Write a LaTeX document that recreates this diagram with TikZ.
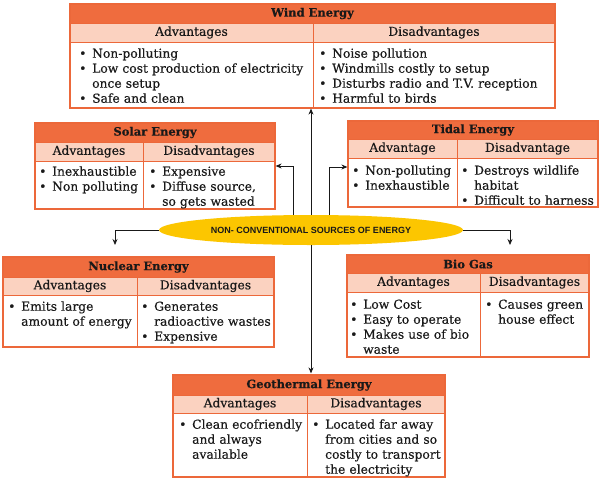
\documentclass[tikz,border=0pt]{standalone}
\usepackage{fontspec}
\setmainfont{DejaVu Serif}[FakeBold=0.4]
\newfontfamily\elfont{Liberation Sans}
\usetikzlibrary{arrows.meta,shapes.geometric,fit,calc}
\definecolor{ttl}{RGB}{239,108,62}
\definecolor{hdr}{RGB}{251,210,192}
\definecolor{brd}{RGB}{236,104,58}
\definecolor{ell}{RGB}{252,198,0}
\definecolor{ink}{RGB}{25,25,25}
\newlength\bw \setlength\bw{13pt}
\newcommand\bl[1]{\par\noindent\strut\makebox[\bw][l]{•}#1}
\newcommand\cl[1]{\par\noindent\strut\hspace*{\bw}#1}
\tikzset{
 frame/.style={draw=brd, line width=1.2pt, inner sep=0pt},
 grid/.style={draw=brd, line width=1pt},
 ttltext/.style={font=\fontsize{11.5}{14}\selectfont\bfseries, text=ink, inner sep=0pt},
 hdrtext/.style={font=\fontsize{12.3}{15}\selectfont, text=ink, inner sep=0pt},
 body/.style={font=\fontsize{12.3}{15}\selectfont, text=ink, inner sep=0pt, text width=230pt, align=left, anchor=north west},
 ellnode/.style={ellipse, fill=ell, minimum width=304pt, minimum height=30pt, inner sep=0pt, font=\elfont\bfseries\fontsize{9}{10}\selectfont, text=ink},
 arr/.style={draw=ink, line width=0.8pt, -{Stealth[length=6pt,width=5pt]}},
}
\newcommand\ebox[9]{%
 \fill[ttl] (#2,#5) rectangle (#4,#6);
 \fill[hdr] (#2,#6) rectangle (#4,#7);
 \draw[grid] (#2,#6) -- (#4,#6) (#2,#7) -- (#4,#7) (#3,#6) -- (#3,#8);
 \node[frame, fit={(#2,#5) (#4,#8)}] (#1) {};
 \node[ttltext] (#1-t) at ($(#2,#5)!0.5!(#4,#6)$) {#9};}
\newcommand\hdrs[8]{%
 \node[hdrtext] (#1-a) at ($(#2,#5)!0.5!(#3,#6)$) {#7};
 \node[hdrtext] (#1-d) at ($(#3,#5)!0.5!(#4,#6)$) {#8};}
\begin{document}
\begin{tikzpicture}[x=1pt,y=-1pt]
\fill[white] (0,0) rectangle (604,482);
\useasboundingbox (0,0) rectangle (604,482);

% Wind
\ebox{wind}{70}{313}{555}{4}{23}{42}{108}{Wind Energy}
\hdrs{wind}{70}{313}{555}{23}{42}{Advantages}{Disadvantages}
\node[body] (wind-l) at (79,42.5) {\bl{Non-polluting}\bl{Low cost production of electricity}\cl{once setup}\bl{Safe and clean}};
\node[body] (wind-r) at (319,42.5) {\bl{Noise pollution}\bl{Windmills costly to setup}\bl{Disturbs radio and T.V. reception}\bl{Harmful to birds}};

% Solar
\ebox{solar}{35}{143}{275}{123}{142}{161}{209}{Solar Energy}
\hdrs{solar}{35}{143}{275}{142}{161}{Advantages}{Disadvantages}
\node[body] (solar-l) at (39,160.5) {\bl{Inexhaustible}\bl{Non polluting}};
\node[body] (solar-r) at (149,160.5) {\bl{Expensive}\bl{Diffuse source,}\cl{so gets wasted}};

% Tidal
\ebox{tidal}{348}{457}{598}{121}{139}{158}{207}{Tidal Energy}
\hdrs{tidal}{348}{457}{598}{139}{158}{Advantage}{Disadvantage}
\node[body] (tidal-l) at (352,159.5) {\bl{Non-polluting}\bl{Inexhaustible}};
\node[body] (tidal-r) at (461,159.5) {\bl{Destroys wildlife}\cl{habitat}\bl{Difficult to harness}};

% Nuclear
\ebox{nuclear}{3}{137}{274}{257}{277}{295}{347}{Nuclear Energy}
\hdrs{nuclear}{3}{137}{274}{277}{295}{Advantages}{Disadvantages}
\node[body] (nuclear-l) at (8,295.5) {\bl{Emits large}\cl{amount of energy}};
\node[body] (nuclear-r) at (141,295.5) {\bl{Generates}\cl{radioactive wastes}\bl{Expensive}};

% Bio gas
\ebox{biogas}{347}{480}{589}{255}{273}{292}{357}{Bio Gas}
\hdrs{biogas}{347}{480}{589}{273}{292}{Advantages}{Disadvantages}
\node[body] (biogas-l) at (350,293.5) {\bl{Low Cost}\bl{Easy to operate}\bl{Makes use of bio}\cl{waste}};
\node[body] (biogas-r) at (485,293.5) {\bl{Causes green}\cl{house effect}};

% Geothermal
\ebox{geo}{173}{307}{445}{375}{395}{413}{477}{Geothermal Energy}
\hdrs{geo}{173}{307}{445}{395}{413}{Advantages}{Disadvantages}
\node[body] (geo-l) at (179,413.5) {\bl{Clean ecofriendly}\cl{and always}\cl{available}};
\node[body] (geo-r) at (312,413.5) {\bl{Located far away}\cl{from cities and so}\cl{costly to transport}\cl{the electricity}};

% Centre
\node[ellnode] (ne) at (311,230) {NON- CONVENTIONAL SOURCES OF ENERGY};
\coordinate (nl) at (115,245);
\coordinate (nr) at (510,245);

\draw[arr] (ne.north) -- (ne.north |- wind.south);
\draw[arr] ([xshift=-18pt]ne.north) |- (solar.east);
\draw[arr] ([xshift=18pt]ne.north) |- ([yshift=-3pt]tidal.west);
\draw[arr] (ne.west) -| (nl);
\draw[arr] (ne.east) -| (nr);
\draw[arr, shorten >=1pt] (ne.south) -- (ne.south |- geo.north);
\end{tikzpicture}
\end{document}
